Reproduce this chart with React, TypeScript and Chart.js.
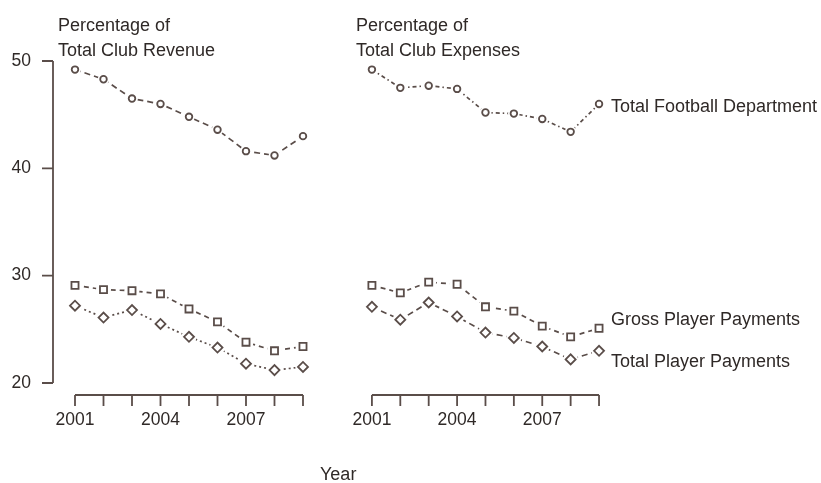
import React, { useEffect, useRef } from 'react';
import { Chart, registerables } from 'chart.js';

Chart.register(...registerables);

// ---- data ----
const years = [2001, 2002, 2003, 2004, 2005, 2006, 2007, 2008, 2009];
const yearTickLabels = [2001, 2004, 2007];
const valueTicks = [20, 30, 40, 50];

const revenueFootball = [49.2, 48.3, 46.5, 46.0, 44.8, 43.6, 41.6, 41.2, 43.0];
const revenueGross = [29.1, 28.7, 28.6, 28.3, 26.9, 25.7, 23.8, 23.0, 23.4];
const revenueTotal = [27.2, 26.1, 26.8, 25.5, 24.3, 23.3, 21.8, 21.2, 21.5];

const expensesFootball = [49.2, 47.5, 47.7, 47.4, 45.2, 45.1, 44.6, 43.4, 46.0];
const expensesGross = [29.1, 28.4, 29.4, 29.2, 27.1, 26.7, 25.3, 24.3, 25.1];
const expensesTotal = [27.1, 25.9, 27.5, 26.2, 24.7, 24.2, 23.4, 22.2, 23.0];

const seriesNames = ['Total Football Department', 'Gross Player Payments', 'Total Player Payments'];

// ---- styles ----
const LINE = '#5a4d49';
const TEXT = '#2f2927';
const FONT = "'Liberation Sans', Arial, sans-serif";

const axesPlugin = {
  id: 'offsetAxes',
  afterDraw(chart: any, _args: any, opts: any) {
    const { ctx, chartArea } = chart;
    const xs = chart.scales.x;
    const ys = chart.scales.y;
    ctx.save();
    ctx.strokeStyle = LINE;
    ctx.lineWidth = 1.8;
    ctx.beginPath();
    const y0 = chartArea.bottom + opts.xGap;
    ctx.moveTo(xs.getPixelForValue(years[0]), y0);
    ctx.lineTo(xs.getPixelForValue(years[years.length - 1]), y0);
    years.forEach((yr) => {
      const px = xs.getPixelForValue(yr);
      ctx.moveTo(px, y0);
      ctx.lineTo(px, y0 + opts.tickLen);
    });
    if (opts.yAxis) {
      const x0 = chartArea.left;
      ctx.moveTo(x0, ys.getPixelForValue(valueTicks[0]));
      ctx.lineTo(x0, ys.getPixelForValue(valueTicks[valueTicks.length - 1]));
      valueTicks.forEach((v) => {
        const py = ys.getPixelForValue(v);
        ctx.moveTo(x0, py);
        ctx.lineTo(x0 - opts.tickLen, py);
      });
    }
    ctx.stroke();
    ctx.restore();
  },
};

type Series = { data: number[]; style: string; radius: number; dash: number[] };

function buildDatasets(series: Series[]) {
  const pts = (d: number[]) => d.map((v, i) => ({ x: years[i], y: v }));
  const out: any[] = [];
  series.forEach((s, i) => {
    out.push({
      label: seriesNames[i] + ' line',
      data: pts(s.data),
      borderColor: LINE,
      borderWidth: 1.7,
      borderDash: s.dash,
      pointRadius: 0,
      showLine: true,
      fill: false,
      order: 3,
      clip: false,
    });
    out.push({
      label: seriesNames[i] + ' halo',
      data: pts(s.data),
      showLine: false,
      pointStyle: 'circle',
      pointRadius: s.radius + 2.5,
      pointBackgroundColor: '#ffffff',
      pointBorderColor: '#ffffff',
      pointBorderWidth: 0,
      order: 2,
      clip: false,
    });
    out.push({
      label: seriesNames[i],
      data: pts(s.data),
      showLine: false,
      pointStyle: s.style,
      pointRadius: s.radius,
      pointBackgroundColor: '#ffffff',
      pointBorderColor: LINE,
      pointBorderWidth: 1.8,
      order: 1,
      clip: false,
    });
  });
  return out;
}

function makeConfig(series: Series[], showY: boolean): any {
  return {
    type: 'scatter',
    data: { datasets: buildDatasets(series) },
    options: {
      responsive: false,
      animation: false,
      events: [],
      layout: { autoPadding: false, padding: { top: 61, bottom: 0, left: 0, right: 4 } },
      plugins: {
        legend: { display: false },
        tooltip: { enabled: false },
        offsetAxes: { xGap: 12, tickLen: 11, yAxis: showY },
      },
      scales: {
        x: {
          type: 'linear',
          min: 2000.228,
          max: 2009.316,
          grid: { display: false, drawTicks: true, tickLength: 27 },
          border: { display: false },
          afterBuildTicks: (s: any) => {
            s.ticks = years.map((v) => ({ value: v }));
          },
          afterFit: (s: any) => {
            s.height = 100;
            s.paddingLeft = 0;
            s.paddingRight = 0;
          },
          ticks: {
            autoSkip: false,
            maxRotation: 0,
            padding: 0,
            color: TEXT,
            font: { family: FONT, size: 17.5 },
            callback: (v: any) => (yearTickLabels.includes(v) ? String(v) : ''),
          },
        },
        y: {
          type: 'linear',
          display: showY,
          min: valueTicks[0],
          max: valueTicks[valueTicks.length - 1],
          grid: { display: false, drawTicks: true, tickLength: 22 },
          border: { display: false },
          afterBuildTicks: (s: any) => {
            s.ticks = valueTicks.map((v) => ({ value: v }));
          },
          afterFit: (s: any) => {
            s.width = showY ? 53 : 0;
            s.paddingTop = 0;
            s.paddingBottom = 0;
          },
          ticks: {
            padding: 0,
            color: TEXT,
            font: { family: FONT, size: 17.5 },
            callback: (v: any) => String(v),
          },
        },
      },
    },
    plugins: [axesPlugin],
  };
}

function Panel({ series, showY, left, width }: { series: Series[]; showY: boolean; left: number; width: number }) {
  const ref = useRef<HTMLCanvasElement>(null);
  useEffect(() => {
    if (!ref.current) return;
    const chart = new Chart(ref.current, makeConfig(series, showY));
    return () => chart.destroy();
  }, []);
  return (
    <canvas
      ref={ref}
      width={width}
      height={483}
      style={{ position: 'absolute', left, top: 0, width, height: 483 }}
    />
  );
}

const textStyle: React.CSSProperties = {
  position: 'absolute',
  fontFamily: FONT,
  fontSize: 18,
  color: TEXT,
  whiteSpace: 'nowrap',
};

export default function App() {
  const revenueSeries: Series[] = [
    { data: revenueFootball, style: 'circle', radius: 3.3, dash: [6, 4] },
    { data: revenueGross, style: 'rect', radius: 5, dash: [5, 4] },
    { data: revenueTotal, style: 'rectRot', radius: 5, dash: [2, 3] },
  ];
  const expensesSeries: Series[] = [
    { data: expensesFootball, style: 'circle', radius: 3.3, dash: [4, 3, 1.5, 3] },
    { data: expensesGross, style: 'rect', radius: 5, dash: [5, 4] },
    { data: expensesTotal, style: 'rectRot', radius: 5, dash: [6, 4] },
  ];
  return (
    <div style={{ position: 'absolute', left: 0, top: 0, width: 821, height: 483, background: '#ffffff', overflow: 'hidden' }}>
      <Panel series={revenueSeries} showY={true} left={0} width={316} />
      <Panel series={expensesSeries} showY={false} left={350} width={262} />
      <div style={{ ...textStyle, left: 58, top: 12.5, lineHeight: '25px' }}>
        Percentage of
        <br />
        Total Club Revenue
      </div>
      <div style={{ ...textStyle, left: 356, top: 12.5, lineHeight: '25px' }}>
        Percentage of
        <br />
        Total Club Expenses
      </div>
      <div style={{ ...textStyle, left: 611, top: 96, lineHeight: '20px' }}>{seriesNames[0]}</div>
      <div style={{ ...textStyle, left: 611, top: 308.5, lineHeight: '20px' }}>{seriesNames[1]}</div>
      <div style={{ ...textStyle, left: 611, top: 351, lineHeight: '20px' }}>{seriesNames[2]}</div>
      <div style={{ ...textStyle, left: 320, top: 464, lineHeight: '20px' }}>Year</div>
    </div>
  );
}
